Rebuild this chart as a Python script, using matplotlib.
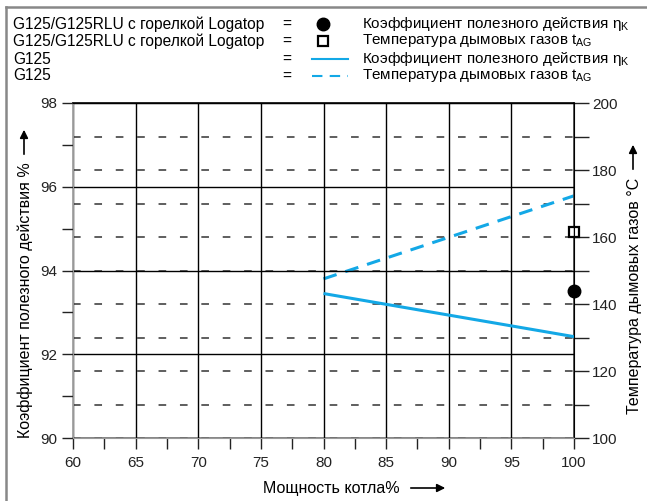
import numpy as np
import matplotlib
matplotlib.use("Agg")
import matplotlib.pyplot as plt
from matplotlib.lines import Line2D

plt.rcParams['font.family'] = ['Liberation Sans', 'DejaVu Sans']
plt.rcParams['mathtext.fontset'] = 'custom'
plt.rcParams['mathtext.rm'] = 'Liberation Sans'
plt.rcParams['mathtext.it'] = 'Liberation Sans'

# данные
load_g125 = [80, 100]
eff_g125 = [93.45, 92.42]
temp_g125 = [147.5, 172.3]
load_logatop = [100]
eff_logatop = [93.52]
temp_logatop = [161.4]

x_ticks = [60, 65, 70, 75, 80, 85, 90, 95, 100]
left_ticks = [90, 92, 94, 96, 98]
right_ticks = [100, 120, 140, 160, 180, 200]

BLUE = '#13a8e6'
W, H = 647, 501

fig = plt.figure(figsize=(W / 100, H / 100), dpi=100)
ax = fig.add_axes([73 / W, 1 - 438 / H, (574 - 73) / W, (438 - 103) / H])
ax2 = ax.twinx()

# оси
ax.set_xlim(60, 100)
ax.set_ylim(90, 98)
ax2.set_ylim(100, 200)
ax.set_xticks(x_ticks)
ax.set_xticks(np.arange(62.5, 100, 5), minor=True)
ax.set_yticks(left_ticks)
ax.set_yticks([91, 93, 95, 97], minor=True)
ax2.set_yticks(right_ticks)
ax2.set_yticks(np.arange(110, 200, 20), minor=True)

ax.tick_params(axis='both', which='both', direction='out', length=8, width=1, labelsize=11, colors='#222')
ax.tick_params(axis='x', pad=5)
ax2.tick_params(axis='y', which='both', direction='out', length=11, width=1, labelsize=11, colors='#222', pad=2)

# сетка
ax.grid(True, axis='x', which='major', color='black', lw=1)
ax.grid(True, axis='y', which='major', color='black', lw=1)
ax2.grid(True, axis='y', which='both', color='#333', lw=1.1, linestyle=(0, (5, 9)))

for sp in ['left', 'bottom']:
    ax.spines[sp].set_color('#999')
    ax2.spines[sp].set_color('#999')
ax.spines['top'].set_color('black')
ax2.spines['top'].set_color('black')
ax2.spines['right'].set_color('#555')
for sp in ax2.spines.values():
    sp.set_linewidth(1.2)

# линии G125
ax.plot(load_g125, eff_g125, color=BLUE, lw=2.2, solid_capstyle='butt')
ax2.plot(load_g125, temp_g125, color=BLUE, lw=2.2, linestyle=(0, (4.5, 3)))

# точки Logatop
ax2.plot(load_logatop, temp_logatop, 's', ms=7, mfc='white', mec='black', mew=1.6, clip_on=False, zorder=5)
ax.plot(load_logatop, eff_logatop, 'o', ms=9, color='black', clip_on=False, zorder=5)
ax.set_zorder(ax2.get_zorder() + 1)
ax.patch.set_visible(False)

# подписи осей
fig.text(25 / W, 1 - 300 / H, 'Коэффициент полезного действия %', rotation=90,
         ha='center', va='center', fontsize=11.5)
fig.text(634 / W, 1 - 296 / H, 'Температура дымовых газов °C', rotation=90,
         ha='center', va='center', fontsize=11.5)
fig.text(331 / W, 1 - 488 / H, 'Мощность котла%', ha='center', va='center', fontsize=11.5)

arrow = dict(arrowstyle='-|>', color='black', lw=1.2, mutation_scale=12)
fig.add_artist(matplotlib.patches.FancyArrowPatch((24, H - 157), (24, H - 127), transform=None, **arrow))
fig.add_artist(matplotlib.patches.FancyArrowPatch((633, H - 172), (633, H - 142), transform=None, **arrow))
fig.add_artist(matplotlib.patches.FancyArrowPatch((408, H - 488), (448, H - 488), transform=None, **arrow))

# легенда
rows_y = [24, 41, 59, 76]
left_txt = ['G125/G125RLU с горелкой Logatop', 'G125/G125RLU с горелкой Logatop', 'G125', 'G125']
right_txt = [r'Коэффициент полезного действия $\mathrm{\eta}_\mathrm{K}$',
             r'Температура дымовых газов $\mathrm{t}_\mathrm{AG}$',
             r'Коэффициент полезного действия $\mathrm{\eta}_\mathrm{K}$',
             r'Температура дымовых газов $\mathrm{t}_\mathrm{AG}$']
for y, lt, rt in zip(rows_y, left_txt, right_txt):
    fig.text(13 / W, 1 - y / H, lt, ha='left', va='center', fontsize=11.2)
    fig.text(287 / W, 1 - y / H, '=', ha='center', va='center', fontsize=11.2)
    fig.text(362 / W, 1 - y / H, rt, ha='left', va='center', fontsize=11)

fig.add_artist(Line2D([323 / W], [1 - 24 / H], marker='o', ms=9, color='black', transform=fig.transFigure))
fig.add_artist(Line2D([323 / W], [1 - 41 / H], marker='s', ms=6.5, mfc='white', mec='black', mew=1.6,
                      transform=fig.transFigure))
fig.add_artist(Line2D([312 / W, 348 / W], [1 - 59 / H] * 2, color=BLUE, lw=1.5, transform=fig.transFigure))
fig.add_artist(Line2D([312 / W, 348 / W], [1 - 76 / H] * 2, color=BLUE, lw=1.5, linestyle=(0, (5, 3.5)),
                      transform=fig.transFigure))

# рамка
fig.add_artist(Line2D([6 / W, 6 / W], [0, 1 - 7 / H], color='#888', lw=1.8, transform=fig.transFigure))
fig.add_artist(Line2D([6 / W, 1], [1 - 7 / H, 1 - 7 / H], color='#888', lw=1.8, transform=fig.transFigure))

fig.savefig('out.png', dpi=100)
